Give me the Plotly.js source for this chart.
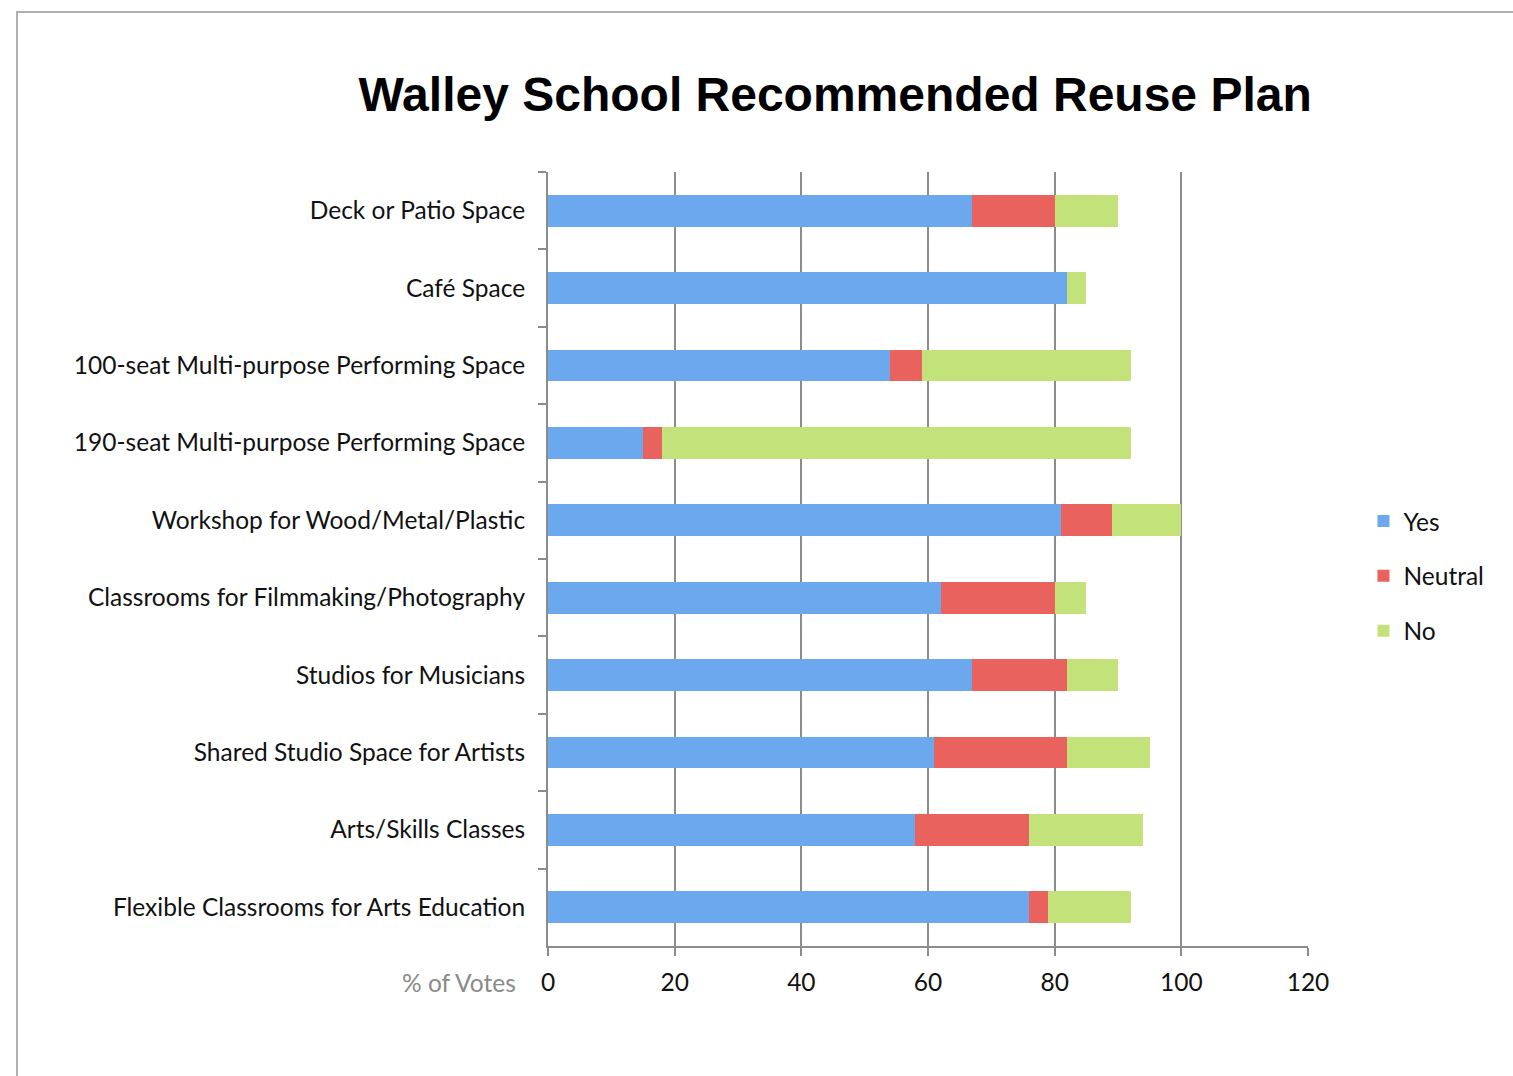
<!DOCTYPE html>
<html>
<head>
<meta charset="utf-8">
<script src="https://cdn.plot.ly/plotly-3.0.1.min.js"></script>
<style>
  html, body { margin: 0; padding: 0; background: #fff; }
  #frame { position: absolute; left: 16px; top: 11px; width: 1520px; height: 1080px; border-left: 2px solid #b0b0b0; border-top: 2px solid #b0b0b0; }
  #chart { position: absolute; left: 0; top: 0; width: 1513px; height: 1076px; }
</style>
</head>
<body>
<div id="frame"></div>
<div id="chart"></div>
<script>
const categories = [
  "Deck or Patio Space",
  "Café Space",
  "100-seat Multi-purpose Performing Space",
  "190-seat Multi-purpose Performing Space",
  "Workshop for Wood/Metal/Plastic",
  "Classrooms for Filmmaking/Photography",
  "Studios for Musicians",
  "Shared Studio Space for Artists",
  "Arts/Skills Classes",
  "Flexible Classrooms for Arts Education"
];
const yesValues     = [67, 82, 54, 15, 81, 62, 67, 61, 58, 76];
const neutralValues = [13,  0,  5,  3,  8, 18, 15, 21, 18,  3];
const noValues      = [10,  3, 33, 74, 11,  5,  8, 13, 18, 13];
const xTickValues = [0, 20, 40, 60, 80, 100, 120];

const labelFont = {family: "Lato, 'Open Sans', sans-serif", size: 24.5, color: "#111"};

const traces = [
  {name: "Yes", legendgroup: "a", y: categories, x: yesValues, type: "bar", orientation: "h",
   marker: {color: "#6ca8ee", line: {width: 0}}},
  {name: "Neutral", legendgroup: "b", y: categories, x: neutralValues, type: "bar", orientation: "h",
   marker: {color: "#e9625e", line: {width: 0}}},
  {name: "No", legendgroup: "c", y: categories, x: noValues, type: "bar", orientation: "h",
   marker: {color: "#c3e27a", line: {width: 0}}}
];

const layout = {
  width: 1513, height: 1076,
  paper_bgcolor: "rgba(0,0,0,0)", plot_bgcolor: "rgba(0,0,0,0)",
  margin: {l: 548, r: 205, t: 172, b: 130, pad: 0},
  barmode: "stack",
  bargap: 0.59,
  title: {text: "Walley School Recommended Reuse Plan",
          font: {family: "'Liberation Sans', Arial, sans-serif", size: 48, color: "#000", weight: "bold"},
          x: 0.552, xanchor: "center", y: 0.912, yanchor: "middle"},
  xaxis: {range: [0, 120], tickvals: xTickValues, ticktext: xTickValues.map(String),
          showgrid: true, gridcolor: "#8c8c8c", gridwidth: 2,
          showline: true, linecolor: "#8c8c8c", linewidth: 2,
          ticks: "outside", ticklen: 8, tickcolor: "#8c8c8c", tickwidth: 2,
          zeroline: false, tickfont: labelFont, ticklabelstandoff: 6, fixedrange: true},
  yaxis: {autorange: "reversed", type: "category",
          showline: true, linecolor: "#8c8c8c", linewidth: 2,
          ticks: "outside", ticklen: 8, tickcolor: "#8c8c8c", tickwidth: 2,
          tickson: "boundaries", showgrid: false, zeroline: false,
          tickfont: labelFont, ticklabelstandoff: 16, fixedrange: true},
  legend: {x: 1.073, xanchor: "left", y: 0.478, yanchor: "middle",
           font: labelFont, itemwidth: 30, tracegroupgap: 20,
           itemsizing: "constant", traceorder: "grouped"},
  annotations: [{text: "% of Votes", xref: "paper", yref: "paper", x: 0, y: 0,
                 xanchor: "right", yanchor: "top", xshift: -30, yshift: -20, showarrow: false,
                 font: {family: "Lato, 'Open Sans', sans-serif", size: 24.5, color: "#8a8a8a"}}],
  showlegend: true
};

Plotly.newPlot("chart", traces, layout, {displayModeBar: false, staticPlot: true});
</script>
</body>
</html>
